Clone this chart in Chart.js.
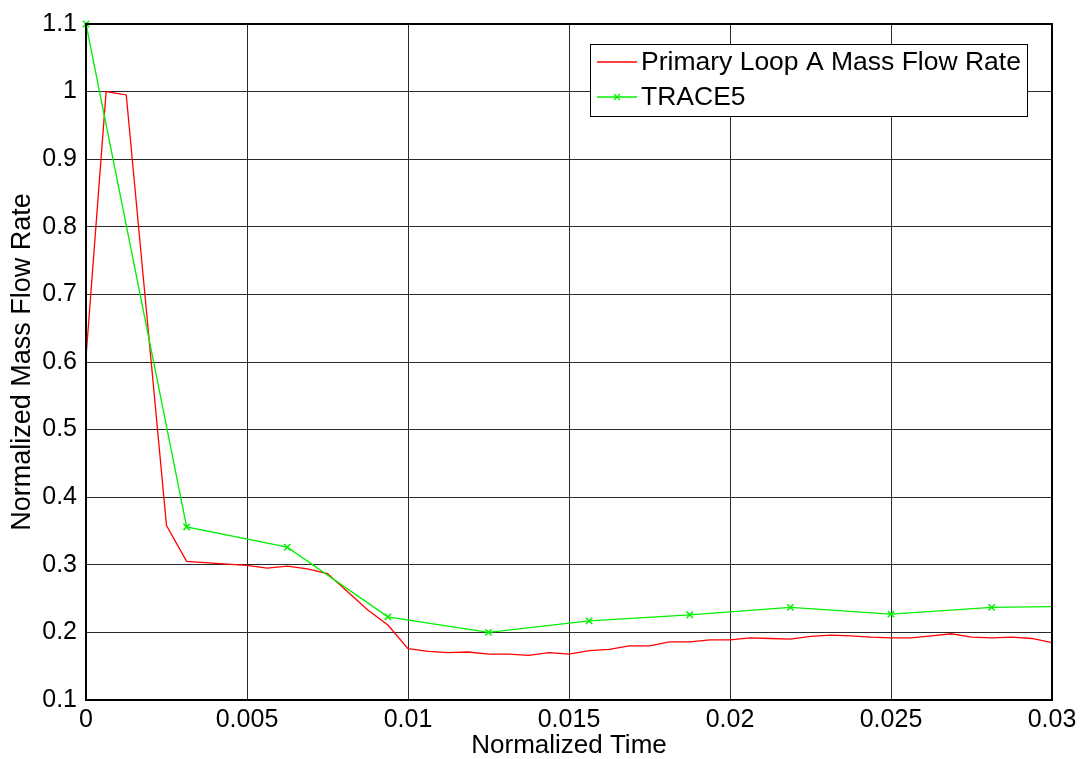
<!DOCTYPE html>
<html lang="en">
<head>
<meta charset="UTF-8">
<title>Normalized Mass Flow Rate</title>
<script src="https://cdn.jsdelivr.net/npm/chart.js"></script>
<style>
  body { margin: 0; background: #fff; }
  canvas { display: block; }
</style>
</head>
<body>
<canvas id="grafico" width="1082" height="759"></canvas>
<script>
  // Primary Loop A (red)
  const loopTime = [0, 0.000625, 0.00125, 0.0025, 0.003125, 0.004375, 0.005, 0.005625, 0.00625, 0.006875,
    0.0075, 0.008125, 0.00875, 0.009375, 0.01, 0.010625, 0.01125, 0.011875, 0.0125, 0.013125,
    0.01375, 0.014375, 0.015, 0.015625, 0.01625, 0.016875, 0.0175, 0.018125, 0.01875, 0.019375,
    0.02, 0.020625, 0.02125, 0.021875, 0.0225, 0.023125, 0.02375, 0.024375, 0.025, 0.025625,
    0.02625, 0.026875, 0.0275, 0.028125, 0.02875, 0.029375, 0.03];
  const loopFlow = [0.607, 1.0, 0.995, 0.358, 0.305, 0.301, 0.299, 0.295, 0.298, 0.294,
    0.287, 0.26, 0.233, 0.211, 0.176, 0.172, 0.170, 0.171, 0.168, 0.168,
    0.166, 0.170, 0.168, 0.173, 0.175, 0.180, 0.180, 0.186, 0.186, 0.189,
    0.189, 0.192, 0.191, 0.190, 0.194, 0.196, 0.195, 0.193, 0.192, 0.192,
    0.195, 0.198, 0.193, 0.192, 0.193, 0.191, 0.185];

  // TRACE5 (green)
  const traceTime = [0, 0.003125, 0.00625, 0.009375, 0.0125, 0.015625, 0.01875, 0.021875, 0.025, 0.028125, 0.03];
  const traceFlow = [1.1, 0.356, 0.326, 0.223, 0.200, 0.217, 0.226, 0.237, 0.227, 0.237, 0.238];

  const xTicks = [0, 0.005, 0.01, 0.015, 0.02, 0.025, 0.03];
  const xTickLabels = ['0', '0.005', '0.01', '0.015', '0.02', '0.025', '0.03'];
  const yTicks = [0.1, 0.2, 0.3, 0.4, 0.5, 0.6, 0.7, 0.8, 0.9, 1.0, 1.1];
  const yTickLabels = ['0.1', '0.2', '0.3', '0.4', '0.5', '0.6', '0.7', '0.8', '0.9', '1', '1.1'];

  const seriesNames = ['Primary Loop A Mass Flow Rate', 'TRACE5'];
  const fam = '"Liberation Sans", Arial, sans-serif';

  function pares(xs, ys) {
    return xs.map((x, i) => ({ x: x, y: ys[i] }));
  }

  // caixa em volta da area do grafico
  const moldura = {
    id: 'moldura',
    afterDatasetsDraw(chart) {
      const a = chart.chartArea;
      const ctx = chart.ctx;
      ctx.save();
      ctx.strokeStyle = '#000';
      ctx.lineWidth = 2;
      ctx.strokeRect(a.left, a.top, a.right - a.left, a.bottom - a.top);
      ctx.restore();
    }
  };

  // legenda no canto superior direito, estilo matlab
  const legenda = {
    id: 'legenda',
    afterDraw(chart) {
      const ctx = chart.ctx;
      const x0 = 590, y0 = 44, w = 437, h = 72;
      ctx.save();
      ctx.fillStyle = '#fff';
      ctx.fillRect(x0, y0, w, h);
      ctx.strokeStyle = '#000';
      ctx.lineWidth = 1;
      ctx.strokeRect(x0 + 0.5, y0 + 0.5, w, h);
      const linhas = [62, 97];
      chart.data.datasets.forEach((ds, i) => {
        const y = linhas[i];
        ctx.strokeStyle = ds.borderColor;
        ctx.lineWidth = 1.3;
        ctx.beginPath();
        ctx.moveTo(597, y);
        ctx.lineTo(637, y);
        ctx.stroke();
        if (i === 1) {
          ctx.beginPath();
          ctx.moveTo(614, y - 3); ctx.lineTo(620, y + 3);
          ctx.moveTo(614, y + 3); ctx.lineTo(620, y - 3);
          ctx.stroke();
        }
        ctx.fillStyle = '#000';
        ctx.font = '26.5px ' + fam;
        ctx.textBaseline = 'middle';
        ctx.fillText(seriesNames[i], 641, y + 1);
      });
      ctx.restore();
    }
  };

  const ctx = document.getElementById('grafico').getContext('2d');
  new Chart(ctx, {
    type: 'scatter',
    data: {
      datasets: [{
        label: seriesNames[0],
        data: pares(loopTime, loopFlow),
        showLine: true,
        borderColor: '#ff0000',
        backgroundColor: '#ff0000',
        borderWidth: 1.3,
        pointRadius: 0,
        order: 1
      }, {
        label: seriesNames[1],
        data: pares(traceTime, traceFlow),
        showLine: true,
        borderColor: '#00f000',
        backgroundColor: '#00f000',
        borderWidth: 1.3,
        pointStyle: 'crossRot',
        pointRadius: traceTime.map((t, i) => i === traceTime.length - 1 ? 0 : 4.5),
        pointBorderWidth: 1.5,
        clip: 8,
        order: 0
      }]
    },
    options: {
      responsive: false,
      animation: false,
      devicePixelRatio: 1,
      layout: { padding: { top: 20, right: 30, left: 0, bottom: 0 } },
      plugins: {
        legend: { display: false },
        tooltip: { enabled: false }
      },
      scales: {
        x: {
          type: 'linear',
          min: 0,
          max: 0.03,
          afterBuildTicks: s => { s.ticks = xTicks.map(v => ({ value: v })); },
          afterFit: s => { s.height = 59; },
          grid: { color: '#2a2a2a', lineWidth: 1, drawTicks: false },
          border: { display: false },
          ticks: {
            color: '#000',
            font: { family: fam, size: 25 },
            padding: 5,
            maxRotation: 0,
            callback: (v, i) => xTickLabels[i]
          },
          title: {
            display: true,
            text: 'Normalized Time',
            color: '#000',
            font: { family: fam, size: 26, lineHeight: 1 },
            padding: { top: 0, bottom: 0 }
          }
        },
        y: {
          min: 0.1,
          max: 1.1,
          afterBuildTicks: s => { s.ticks = yTicks.map(v => ({ value: v })); },
          afterFit: s => { s.width = 86; },
          grid: { color: '#2a2a2a', lineWidth: 1, drawTicks: false },
          border: { display: false },
          ticks: {
            color: '#000',
            font: { family: fam, size: 25 },
            padding: 9,
            callback: (v, i) => yTickLabels[i]
          },
          title: {
            display: true,
            text: 'Normalized Mass Flow Rate',
            color: '#000',
            font: { family: fam, size: 27, lineHeight: 1 },
            padding: { top: 9, bottom: 0 }
          }
        }
      }
    },
    plugins: [moldura, legenda]
  });
</script>
</body>
</html>
